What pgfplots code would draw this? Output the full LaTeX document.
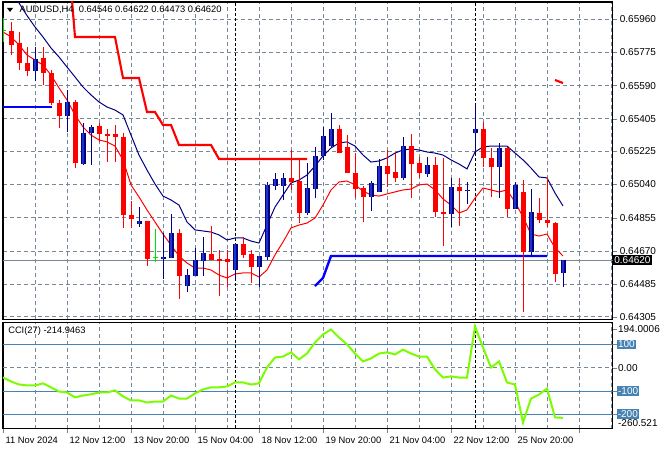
\documentclass[border=0pt]{standalone}
\usepackage{fontspec}
\setmainfont{Liberation Sans}
\usepackage{pgfplots}
\usepackage{pgfplotstable}
\pgfplotsset{compat=1.18}
\definecolor{gridc}{HTML}{778899}
\definecolor{steelb}{HTML}{4682B4}
\definecolor{lawn}{HTML}{7CFC00}
\definecolor{bullin}{HTML}{1E32D0}
\definecolor{bullout}{HTML}{000080}
\definecolor{dojic}{HTML}{00E000}
\newcommand\lbl{\fontsize{7}{8}\selectfont}
\newcommand\plbl{\fontsize{7.5}{8}\selectfont}
\pgfplotsset{candle/.style={draw=none, mark=none, forget plot,
  error bars/.cd, y dir=plus, y explicit, error mark=none}}

\pgfplotstableread{
i O H L C
4 0.65671 0.65804 0.65616 0.65738
8 0.65421 0.65566 0.65332 0.65499
10 0.65154 0.65382 0.65149 0.65327
11 0.65327 0.65371 0.65149 0.65360
17 0.64821 0.64915 0.64804 0.64838
20 0.64626 0.64771 0.64515 0.64637
21 0.64632 0.64876 0.64630 0.64771
23 0.64476 0.64571 0.64443 0.64537
24 0.64532 0.64688 0.64530 0.64621
25 0.64615 0.64749 0.64532 0.64660
29 0.64565 0.64712 0.64510 0.64710
32 0.64582 0.64645 0.64471 0.64643
33 0.64637 0.65054 0.64621 0.65038
34 0.65032 0.65104 0.65010 0.65071
35 0.65032 0.65104 0.64954 0.65077
38 0.64882 0.65160 0.64871 0.65021
39 0.65015 0.65249 0.64965 0.65199
40 0.65199 0.65360 0.65177 0.65310
41 0.65254 0.65438 0.65249 0.65349
46 0.64971 0.65060 0.64893 0.65049
47 0.64999 0.65182 0.64997 0.65143
50 0.65077 0.65304 0.65065 0.65254
53 0.65099 0.65193 0.65082 0.65149
56 0.64876 0.65077 0.64804 0.65026
58 0.65004 0.65054 0.64932 0.65010
59 0.65327 0.65488 0.65215 0.65349
62 0.65138 0.65271 0.64965 0.65243
64 0.64904 0.65054 0.64902 0.65038
66 0.64665 0.65015 0.64637 0.64888
70 0.64546 0.64622 0.64473 0.64620
}\bull

\pgfplotstableread{
i O H L C
1 0.65895 0.65945 0.65760 0.65816
2 0.65827 0.65888 0.65677 0.65716
3 0.65716 0.65804 0.65643 0.65671
5 0.65743 0.65804 0.65593 0.65660
6 0.65660 0.65677 0.65482 0.65493
7 0.65493 0.65510 0.65354 0.65421
9 0.65499 0.65510 0.65132 0.65160
12 0.65365 0.65382 0.65277 0.65321
13 0.65321 0.65349 0.65165 0.65310
14 0.65321 0.65371 0.65165 0.65304
15 0.65304 0.65327 0.64799 0.64871
16 0.64871 0.64949 0.64799 0.64849
18 0.64838 0.64840 0.64587 0.64626
22 0.64771 0.64793 0.64404 0.64532
26 0.64654 0.64810 0.64619 0.64621
27 0.64626 0.64676 0.64421 0.64615
28 0.64626 0.64676 0.64471 0.64610
30 0.64710 0.64749 0.64632 0.64649
31 0.64654 0.64676 0.64493 0.64582
36 0.65077 0.65232 0.65010 0.65054
37 0.65060 0.65177 0.64826 0.64882
42 0.65349 0.65371 0.65213 0.65215
43 0.65249 0.65315 0.65102 0.65104
44 0.65104 0.65215 0.64965 0.65015
45 0.65021 0.65032 0.64832 0.64971
48 0.65143 0.65232 0.65026 0.65099
49 0.65110 0.65215 0.65054 0.65077
51 0.65254 0.65321 0.64965 0.65154
52 0.65160 0.65193 0.65077 0.65104
54 0.65149 0.65193 0.64860 0.64888
55 0.64888 0.65188 0.64699 0.64876
57 0.65026 0.65077 0.64810 0.65004
60 0.65349 0.65388 0.65138 0.65188
61 0.65188 0.65243 0.64971 0.65138
63 0.65243 0.65246 0.64860 0.64904
65 0.64999 0.65065 0.64332 0.64665
67 0.64882 0.64965 0.64826 0.64843
68 0.64843 0.65077 0.64804 0.64826
69 0.64826 0.64832 0.64498 0.64543
}\bear

\pgfplotstableread{
i O H L C
0 0.65893 0.65966 0.65832 0.65898
19 0.64632 0.64793 0.64610 0.64637
}\doji

\pgfplotstableread{
i v
1 0.66110
2 0.66049
3 0.65979
4 0.65916
5 0.65860
6 0.65799
7 0.65749
8 0.65693
9 0.65638
10 0.65582
11 0.65538
12 0.65499
13 0.65471
14 0.65454
15 0.65427
16 0.65315
17 0.65204
18 0.65121
19 0.65043
20 0.64976
21 0.64954
22 0.64926
23 0.64832
24 0.64788
25 0.64782
26 0.64776
27 0.64760
28 0.64732
29 0.64743
30 0.64743
31 0.64726
32 0.64715
33 0.64815
34 0.64915
35 0.64982
36 0.65049
37 0.65065
38 0.65093
39 0.65143
40 0.65199
41 0.65243
42 0.65271
43 0.65277
44 0.65254
45 0.65204
46 0.65165
47 0.65171
48 0.65188
49 0.65215
50 0.65232
51 0.65238
52 0.65232
53 0.65221
54 0.65215
55 0.65204
56 0.65177
57 0.65154
58 0.65127
59 0.65221
60 0.65249
61 0.65254
62 0.65254
63 0.65254
64 0.65215
65 0.65177
66 0.65132
67 0.65082
68 0.65077
69 0.64993
70 0.64921
}\maslow

\pgfplotstableread{
i v
0 0.65888
1 0.65860
2 0.65816
3 0.65760
4 0.65732
5 0.65704
6 0.65649
7 0.65577
8 0.65510
9 0.65427
10 0.65360
11 0.65315
12 0.65288
13 0.65277
14 0.65254
15 0.65177
16 0.65038
17 0.64971
18 0.64899
19 0.64832
20 0.64765
21 0.64704
22 0.64643
23 0.64604
24 0.64576
25 0.64576
26 0.64565
27 0.64537
28 0.64521
29 0.64543
30 0.64549
31 0.64549
32 0.64526
33 0.64565
34 0.64649
35 0.64721
36 0.64799
37 0.64815
38 0.64826
39 0.64854
40 0.64926
41 0.65010
42 0.65054
43 0.65060
44 0.65038
45 0.65004
46 0.64982
47 0.64976
48 0.64988
49 0.64999
50 0.65010
51 0.65015
52 0.65038
53 0.65043
54 0.65010
55 0.64960
56 0.64926
57 0.64882
58 0.64899
59 0.64965
60 0.65021
61 0.65010
62 0.64999
63 0.65010
64 0.64943
65 0.64860
66 0.64765
67 0.64754
68 0.64765
69 0.64688
70 0.64643
}\mafast

\pgfplotstableread{
i v
0 -41.6
1 -58.8
2 -71.6
3 -75.9
4 -75.9
5 -67
6 -84
7 -102
8 -106
9 -127
10 -119
11 -114
12 -106
13 -106
14 -97
15 -123
16 -140
17 -140
18 -149
19 -145
20 -145
21 -119
22 -132
23 -132
24 -110
25 -93
26 -84
27 -84
28 -80
29 -63
30 -63
31 -72
32 -67
33 1
34 44
35 48
36 66
37 36
38 61
39 108
40 143
41 164
42 130
43 100
44 61
45 27
46 40
47 61
48 66
49 57
50 78
51 61
52 48
53 48
54 -7
55 -42
56 -37
57 -42
58 -42
59 177
60 87
61 1
62 27
63 -63
64 -72
65 -235
66 -132
67 -115
68 -89
69 -213
70 -214.9463
}\cci

\begin{document}
\begin{tikzpicture}
\path[use as bounding box] (0pt,0pt) rectangle (495pt,337.5pt);

% ---------------- main price panel ----------------
\begin{axis}[
  at={(2.25pt,336pt)}, anchor=north west, scale only axis,
  width=457.125pt, height=238.125pt,
  xmin=0, xmax=76.1875, ymin=0.642901, ymax=0.660545,
  clip mode=individual,
  axis line style={black, line width=0.8pt},
  xtick={0,8,...,72}, minor xtick={4,12,...,76},
  xticklabels={}, xtick style={draw=none}, minor tick length=0pt,
  ytick={0.64305,0.64485,0.64670,0.64855,0.65040,0.65225,0.65405,0.65590,0.65775,0.65960},
  yticklabels={0.64305,0.64485,0.64670,0.64855,0.65040,0.65225,0.65405,0.65590,0.65775,0.65960},
  ytick pos=right, yticklabel pos=right, tick align=outside, major tick length=3pt,
  yticklabel style={font=\plbl, anchor=west, xshift=-1pt},
  /pgf/number format/assume math mode=true,
  grid=both,
  major grid style={gridc, dash pattern=on 3pt off 2.25pt, line width=0.6pt},
  minor grid style={gridc, dash pattern=on 3pt off 2.25pt, line width=0.6pt},
]
% current price line
\addplot[gridc, line width=0.75pt] coordinates {(0,0.64620) (76.1875,0.64620)};
% week separators
\addplot[black, dash pattern=on 2.25pt off 1.5pt, line width=0.75pt] coordinates {(29,0.6420) (29,0.6610)};
\addplot[black, dash pattern=on 2.25pt off 1.5pt, line width=0.75pt] coordinates {(59,0.6420) (59,0.6610)};
% step lines
\addplot[red, line width=1.6pt] coordinates {(8,0.66400) (9,0.65860) (14,0.65860) (15,0.65632) (17,0.65632) (18,0.65443) (19,0.65443) (20,0.65371) (21,0.65371) (22,0.65260) (26,0.65260) (27,0.65182) (38,0.65182)};
\addplot[red, line width=1.6pt] coordinates {(69,0.65621) (70,0.65604)};
\addplot[blue, line width=1.8pt] coordinates {(0,0.65471) (6.1,0.65471)};
\addplot[blue, line width=1.8pt] coordinates {(39,0.64476) (40,0.64521) (41,0.64643) (68,0.64643)};
% moving averages
\addplot[bullout, line width=0.75pt] table[x=i, y=v] {\maslow};
\addplot[red, line width=0.75pt] table[x=i, y=v] {\mafast};
% candles: wicks
\addplot[candle, error bar style={draw=bullout, line width=0.75pt}]
  table[x=i, y=L, y error plus expr={\thisrow{H}-\thisrow{L}}] {\bull};
\addplot[candle, error bar style={draw=red, line width=0.75pt}]
  table[x=i, y=L, y error plus expr={\thisrow{H}-\thisrow{L}}] {\bear};
\addplot[candle, error bar style={draw=dojic, line width=0.75pt}]
  table[x=i, y=L, y error plus expr={\thisrow{H}-\thisrow{L}}] {\doji};
% candles: bodies
\addplot[candle, error bar style={draw=bullout, line width=3.75pt}]
  table[x=i, y=O, y error plus expr={\thisrow{C}-\thisrow{O}}] {\bull};
\addplot[candle, error bar style={draw=bullin, line width=2.2pt}]
  table[x=i, y=O, y error plus expr={\thisrow{C}-\thisrow{O}}] {\bull};
\addplot[candle, error bar style={draw=red, line width=3.75pt}]
  table[x=i, y=C, y error plus expr={\thisrow{O}-\thisrow{C}}] {\bear};
\addplot[candle, error bar style={draw=dojic, line width=3.75pt}]
  table[x=i, y=O, y error plus expr={\thisrow{C}-\thisrow{O}}] {\doji};
% current price label
\node[anchor=west, fill=black, text=white, inner sep=1.2pt, font=\plbl, minimum height=8pt] at (axis cs:76.1875,0.64620) {0.64620};
\end{axis}

% ---------------- CCI panel ----------------
\begin{axis}[
  at={(2.25pt,95.625pt)}, anchor=north west, scale only axis,
  width=457.125pt, height=79.5pt,
  xmin=0, xmax=76.1875, ymin=-260.521, ymax=194.0006,
  clip mode=individual,
  axis line style={black, line width=0.8pt},
  xtick={0,8,...,72}, minor xtick={4,12,...,76},
  xticklabels={11 Nov 2024,12 Nov 12:00,13 Nov 20:00,15 Nov 04:00,18 Nov 12:00,19 Nov 20:00,21 Nov 04:00,22 Nov 12:00,25 Nov 20:00,{}},
  xtick pos=bottom, tick align=outside, major tick length=3pt, minor tick length=0pt,
  xticklabel style={font=\lbl, anchor=north west, xshift=-1.5pt, yshift=0.5pt},
  ytick={-200,-100,0,100,166}, yticklabels={}, ytick pos=right,
  xmajorgrids, xminorgrids,
  major grid style={gridc, dash pattern=on 3pt off 2.25pt, line width=0.6pt},
  minor grid style={gridc, dash pattern=on 3pt off 2.25pt, line width=0.6pt},
]
\addplot[gridc, dash pattern=on 3pt off 2.25pt, line width=0.6pt] coordinates {(0,0) (76.1875,0)};
\addplot[steelb, line width=0.75pt] coordinates {(0,100) (76.1875,100)};
\addplot[steelb, line width=0.75pt] coordinates {(0,-100) (76.1875,-100)};
\addplot[steelb, line width=0.75pt] coordinates {(0,-200) (76.1875,-200)};
\addplot[black, dash pattern=on 2.25pt off 1.5pt, line width=0.75pt] coordinates {(29,-300) (29,250)};
\addplot[black, dash pattern=on 2.25pt off 1.5pt, line width=0.75pt] coordinates {(59,-300) (59,250)};
\addplot[lawn, line width=1.5pt] table[x=i, y=v] {\cci};
\node[anchor=west, font=\plbl, inner sep=0pt, xshift=4pt] at (axis cs:76.1875,164) {194.0006};
\node[anchor=west, font=\plbl, fill=steelb, text=white, inner sep=1pt, xshift=3pt] at (axis cs:76.1875,100) {100};
\node[anchor=west, font=\plbl, inner sep=0pt, xshift=4pt] at (axis cs:76.1875,0) {0.00};
\node[anchor=west, font=\plbl, fill=steelb, text=white, inner sep=1pt, xshift=3pt] at (axis cs:76.1875,-100) {-100};
\node[anchor=west, font=\plbl, fill=steelb, text=white, inner sep=0.8pt, xshift=3pt] at (axis cs:76.1875,-198) {-200};
\node[anchor=west, font=\plbl, inner sep=0pt, xshift=4pt] at (axis cs:76.1875,-237) {-260.521};
\end{axis}

% titles
\fill (5.25pt,331.5pt) -- (9.75pt,331.5pt) -- (7.5pt,328.5pt) -- cycle;
\node[anchor=west, font=\lbl, inner sep=0pt] at (14.6pt,330pt) {AUDUSD,H4\ \ 0.64546 0.64622 0.64473 0.64620};
\node[anchor=west, font=\lbl, inner sep=0pt] at (6pt,89.25pt) {CCI(27) -214.9463};
\end{tikzpicture}
\end{document}
